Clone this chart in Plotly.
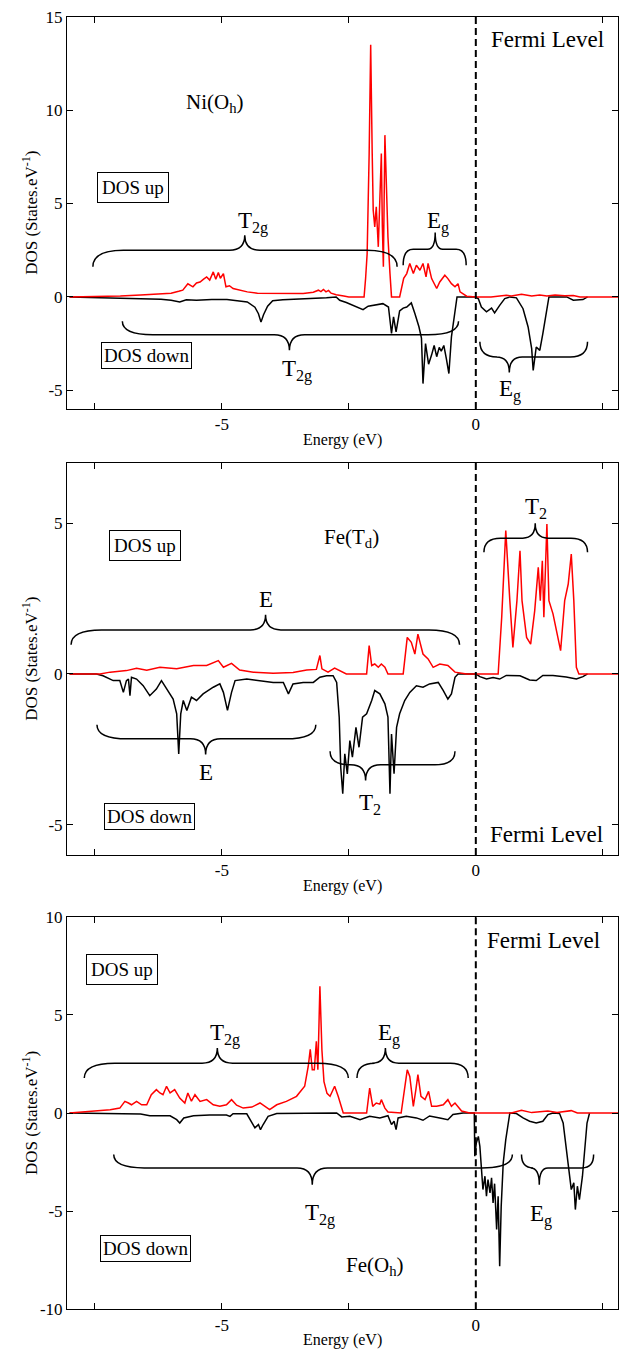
import plotly.graph_objects as go

# ---------------- data ----------------
# Panel 1 : Ni(Oh)
ni_up_e = [-8.0, -7.5, -7.0, -6.6, -6.2, -6.0, -5.85, -5.77, -5.67, -5.57,
           -5.5, -5.43, -5.36, -5.3, -5.24, -5.17, -5.12, -5.07, -5.03, -4.97,
           -4.92, -4.85, -4.78, -4.7, -4.6, -4.5, -4.3, -4.0, -3.7, -3.4,
           -3.2, -3.1, -3.05, -3.0, -2.95, -2.9, -2.85, -2.75, -2.6, -2.5,
           -2.3, -2.2, -2.17, -2.14, -2.1, -2.07, -2.04, -2.02, -1.99, -1.96,
           -1.92, -1.89, -1.86, -1.84, -1.82, -1.79, -1.77, -1.73, -1.69, -1.66,
           -1.5, -1.42, -1.36, -1.30, -1.23, -1.17, -1.10, -1.04, -0.98, -0.94,
           -0.87, -0.77, -0.71, -0.61, -0.55, -0.48, -0.41, -0.35, -0.31, -0.18,
           0.0, 0.3, 0.6, 0.7, 0.9, 1.1, 1.26, 1.4, 1.56, 1.75,
           1.92, 2.05, 2.3, 2.8]
ni_up = [0.0, 0.02, 0.05, 0.1, 0.15, 0.2, 0.3, 0.36, 0.7, 0.54,
         0.75, 0.8, 0.95, 1.07, 0.9, 1.34, 0.95, 1.3, 1.0, 1.25,
         0.54, 0.6, 0.45, 0.4, 0.3, 0.27, 0.2, 0.18, 0.2, 0.18,
         0.25, 0.36, 0.28, 0.4, 0.27, 0.35, 0.2, 0.12, 0.05, 0.0,
         0.0, 0.0, 1.0, 2.3, 7.68, 13.5, 7.68, 4.64, 3.75, 4.82,
         2.68, 5.54, 7.68, 3.75, 1.61, 8.66, 6.79, 3.21, 1.25, 0.0,
         0.0, 1.0, 1.25, 1.79, 1.25, 1.7, 1.43, 1.79, 1.07, 1.79,
         0.98, 0.45, 0.8, 1.16, 0.98, 0.71, 0.54, 0.71, 0.27, 0.04,
         0.0, 0.0, 0.09, 0.05, 0.14, 0.05, 0.1, 0.05, 0.1, 0.06,
         0.08, 0.0, 0.0, 0.0]
ni_dn_e = [-8.0, -7.0, -6.5, -6.2, -6.0, -5.83, -5.7, -5.5, -5.2, -4.9,
           -4.7, -4.5, -4.35, -4.28, -4.23, -4.18, -4.1, -4.0, -3.8, -3.5,
           -3.2, -2.94, -2.75, -2.68, -2.55, -2.42, -2.3, -2.22, -2.12, -2.02,
           -1.92, -1.83, -1.72, -1.66, -1.62, -1.57, -1.50, -1.43, -1.36, -1.27,
           -1.20, -1.12, -1.07, -1.04, -0.99, -0.93, -0.87, -0.82, -0.77, -0.72,
           -0.68, -0.63, -0.58, -0.53, -0.48, -0.41, -0.37, 0.0, 0.05, 0.11,
           0.21, 0.31, 0.37, 0.47, 0.57, 0.67, 0.80, 0.93, 1.03, 1.10,
           1.13, 1.19, 1.26, 1.32, 1.39, 1.44, 1.79, 1.92, 2.11, 2.2]
ni_dn = [0.0, -0.05, -0.1, -0.12, -0.18, -0.27, -0.15, -0.18, -0.14, -0.14,
         -0.2, -0.27, -0.55, -0.9, -1.35, -0.95, -0.5, -0.2, -0.15, -0.12,
         -0.1, -0.04, 0.0, -0.18, -0.3, -0.45, -0.6, -0.68, -0.5, -0.45,
         -0.4, -0.36, -0.54, -1.96, -1.07, -1.87, -0.75, -0.6, -0.54, -0.32,
         -0.89, -1.6, -2.2, -4.64, -2.5, -3.6, -3.1, -2.6, -3.2, -2.7,
         -2.9, -2.6, -3.3, -4.1, -2.14, -0.71, 0.0, 0.0, -0.1, -0.54,
         -0.8, -0.6, -0.86, -0.45, -0.09, 0.0, -0.05, -0.63, -1.61, -2.77,
         -3.93, -2.68, -2.86, -1.96, -0.71, 0.0, 0.0, -0.18, -0.14, 0.0]

# Panel 2 : Fe(Td)
td_up_e = [-8.0, -7.4, -7.2, -6.88, -6.68, -6.48, -6.22, -5.89, -5.56, -5.3,
           -5.07, -4.97, -4.81, -4.65, -4.38, -3.99, -3.6, -3.33, -3.14, -3.07,
           -3.03, -2.91, -2.78, -2.64, -2.55, -2.15, -2.10, -2.05, -1.99, -1.92,
           -1.86, -1.79, -1.73, -1.43, -1.35, -1.27, -1.20, -1.14, -1.04, -0.94,
           -0.84, -0.71, -0.55, -0.41, -0.18, 0.0, 0.44, 0.51, 0.59, 0.67,
           0.73, 0.81, 0.87, 0.91, 1.00, 1.08, 1.16, 1.23, 1.27, 1.31,
           1.34, 1.40, 1.44, 1.52, 1.60, 1.67, 1.75, 1.82, 1.88, 1.93,
           1.98, 2.03, 2.8]
td_up = [0.0, 0.0, 0.06, 0.11, 0.19, 0.12, 0.22, 0.17, 0.28, 0.28,
         0.44, 0.22, 0.35, 0.13, 0.06, 0.02, 0.05, 0.13, 0.15, 0.61,
         0.17, 0.06, 0.19, 0.06, 0.0, 0.0, 0.94, 0.28, 0.33, 0.22,
         0.33, 0.22, 0.0, 0.0, 1.21, 1.05, 0.66, 1.32, 0.66, 0.5,
         0.22, 0.33, 0.28, 0.06, 0.0, 0.0, 0.0, 1.88, 4.75, 2.43,
         0.88, 2.43, 4.08, 2.43, 1.21, 0.99, 2.1, 3.53, 2.43, 3.75,
         1.88, 4.97, 2.43, 1.99, 1.32, 0.77, 2.43, 2.98, 3.97, 2.43,
         0.22, 0.0, 0.0]
td_dn_e = [-8.0, -7.47, -7.34, -7.14, -7.01, -6.94, -6.88, -6.84, -6.81, -6.78,
           -6.68, -6.55, -6.42, -6.29, -6.19, -6.09, -5.96, -5.89, -5.85, -5.81,
           -5.76, -5.69, -5.60, -5.50, -5.37, -5.17, -5.04, -4.97, -4.89, -4.81,
           -4.74, -4.51, -4.25, -3.99, -3.79, -3.69, -3.6, -3.4, -3.2, -3.07,
           -2.94, -2.81, -2.74, -2.69, -2.66, -2.62, -2.58, -2.53, -2.48, -2.43,
           -2.36, -2.30, -2.23, -2.15, -2.05, -1.99, -1.89, -1.79, -1.73, -1.69,
           -1.66, -1.61, -1.56, -1.50, -1.40, -1.30, -1.17, -1.04, -0.91, -0.74,
           -0.64, -0.55, -0.48, -0.41, -0.35, 0.0, 0.08, 0.21, 0.34, 0.47,
           0.6, 0.87, 1.06, 1.19, 1.32, 1.52, 1.78, 1.98, 2.11, 2.2]
td_dn = [0.0, 0.0, -0.06, -0.22, -0.22, -0.61, -0.22, -0.17, -0.72, -0.11,
         -0.17, -0.39, -0.72, -0.5, -0.22, -0.5, -0.83, -1.32, -2.65, -1.32,
         -0.88, -1.21, -0.77, -0.88, -0.66, -0.44, -0.33, -0.61, -1.21, -0.61,
         -0.22, -0.17, -0.22, -0.28, -0.28, -0.66, -0.33, -0.28, -0.28, -0.11,
         -0.06, -0.06, -0.28, -1.43, -3.09, -3.97, -2.65, -3.31, -2.21, -2.76,
         -1.77, -2.43, -1.43, -1.32, -0.88, -0.55, -0.66, -0.99, -1.43, -3.97,
         -1.99, -3.31, -1.77, -1.32, -0.88, -0.61, -0.39, -0.44, -0.33, -0.28,
         -0.55, -0.83, -0.66, -0.11, 0.0, 0.0, -0.09, -0.17, -0.12, -0.17,
         -0.05, -0.06, -0.2, -0.22, -0.05, -0.05, -0.1, -0.17, -0.09, 0.0]

# Panel 3 : Fe(Oh)
oh_up_e = [-8.0, -7.53, -7.2, -7.01, -6.91, -6.84, -6.78, -6.68, -6.58, -6.48,
           -6.39, -6.29, -6.22, -6.16, -6.09, -6.02, -5.93, -5.83, -5.73, -5.67,
           -5.60, -5.53, -5.43, -5.30, -5.17, -5.04, -4.91, -4.81, -4.71, -4.58,
           -4.41, -4.25, -4.06, -3.92, -3.73, -3.53, -3.37, -3.30, -3.26, -3.22,
           -3.18, -3.14, -3.11, -3.07, -3.03, -2.99, -2.93, -2.87, -2.78, -2.71,
           -2.61, -2.15, -2.09, -2.03, -1.96, -1.89, -1.86, -1.79, -1.73, -1.47,
           -1.40, -1.35, -1.30, -1.23, -1.18, -1.14, -1.08, -1.00, -0.93, -0.87,
           -0.77, -0.64, -0.55, -0.48, -0.41, -0.35, -0.28, -0.12, 0.0, 0.7,
           0.9, 1.1, 1.42, 1.6, 1.88, 2.0, 2.8]
oh_up = [0.0, 0.08, 0.17, 0.25, 0.59, 0.51, 0.42, 0.59, 0.42, 0.42,
         0.93, 1.19, 1.02, 0.93, 1.36, 1.02, 1.19, 0.76, 0.51, 1.02,
         0.6, 0.93, 0.59, 0.68, 0.42, 0.34, 0.42, 0.68, 0.4, 0.25,
         0.3, 0.51, 0.17, 0.42, 0.59, 0.85, 1.36, 2.37, 3.24, 2.2,
         2.2, 3.65, 2.2, 6.45, 3.2, 1.6, 1.0, 0.85, 1.36, 0.85,
         0.0, 0.0, 1.27, 0.34, 0.51, 0.45, 0.68, 0.25, 0.05, 0.0,
         1.19, 2.2, 1.86, 0.34, 1.19, 1.95, 0.85, 0.68, 1.1, 0.34,
         0.34, 0.42, 0.68, 0.34, 0.51, 0.3, 0.1, 0.0, 0.0, 0.0,
         0.14, 0.02, 0.1, 0.02, 0.12, 0.0, 0.0]
oh_dn_e = [-8.0, -6.6, -6.42, -6.02, -5.89, -5.83, -5.75, -5.56, -5.24, -4.91,
           -4.84, -4.78, -4.51, -4.45, -4.35, -4.28, -4.24, -4.19, -4.09, -3.92,
           -2.94, -2.74, -2.64, -2.48, -2.28, -2.09, -1.89, -1.73, -1.66, -1.61,
           -1.57, -1.53, -1.37, -1.17, -1.04, -0.91, -0.71, -0.55, -0.45, -0.25,
           -0.03, -0.02, 0.01, 0.05, 0.08, 0.11, 0.14, 0.18, 0.21, 0.24,
           0.28, 0.31, 0.34, 0.37, 0.41, 0.44, 0.47, 0.50, 0.54, 0.59,
           0.64, 0.67, 0.80, 0.93, 1.06, 1.19, 1.32, 1.42, 1.52, 1.65,
           1.72, 1.78, 1.84, 1.88, 1.93, 1.96, 2.00, 2.04, 2.10, 2.15,
           2.19, 2.24]
oh_dn = [0.0, -0.05, -0.14, -0.14, -0.34, -0.51, -0.25, -0.14, -0.1, -0.1,
         -0.17, -0.04, -0.04, -0.34, -0.76, -0.59, -0.85, -0.6, -0.17, -0.03,
         -0.03, 0.0, -0.2, -0.17, -0.34, -0.17, -0.25, -0.14, -0.59, -0.42,
         -0.85, -0.25, -0.17, -0.25, -0.37, -0.15, -0.25, -0.34, -0.08, 0.0,
         0.0, -2.2, -1.53, -1.19, -1.7, -3.05, -3.9, -3.22, -4.24, -3.39,
         -4.07, -3.3, -4.58, -3.6, -5.93, -4.24, -7.8, -4.75, -2.54, -1.36,
         -0.34, 0.0, -0.03, -0.25, -0.42, -0.51, -0.42, -0.08, 0.0, -0.03,
         -0.51, -1.7, -2.88, -3.9, -3.56, -4.92, -3.73, -4.41, -3.22, -1.53,
         -0.51, 0.0]

# axis ranges and ticks
x_range = [-8.05, 2.8]
x_tickvals = [-7.5, -5, -2.5, 0, 2.5]
x_ticktext = ["", "-5", "", "0", ""]
y_ranges = [[-6, 15], [-6, 7], [-10, 10]]
y_tickvals = [[-5, 0, 5, 10, 15], [-5, 0, 5], [-10, -5, 0, 5, 10]]
y_ticktext = [["-5", "0", "5", "10", "15"], ["-5", "0", "5"], ["-10", "-5", "0", "5", "10"]]

# braces: (panel, x_left, x_right, x_tip, y_line, y_ends, y_tip)
braces = [
    (1, -7.54, -1.55, -4.55, 2.5, 1.62, 3.3),
    (1, -1.43, -0.19, -0.80, 2.55, 1.7, 3.45),
    (1, -6.96, -0.34, -3.67, -2.02, -1.3, -2.86),
    (1, 0.08, 2.2, 0.66, -3.21, -2.4, -4.04),
    (2, -7.97, -0.32, -4.14, 1.46, 0.97, 1.96),
    (2, -7.46, -3.15, -5.32, -2.15, -1.68, -2.67),
    (2, -2.87, -0.41, -2.17, -3.01, -2.56, -3.53),
    (2, 0.16, 2.2, 1.17, 4.5, 4.03, 4.99),
    (3, -7.71, -2.51, -5.09, 2.54, 1.78, 3.31),
    (3, -2.34, -0.15, -1.78, 2.54, 1.78, 3.31),
    (3, -7.13, 0.72, -3.22, -2.8, -2.12, -3.65),
    (3, 0.9, 2.32, 1.25, -2.8, -2.12, -3.65),
]

# text labels: (panel, text, x, y)
labels = [
    (1, "T<sub>2g</sub>", -4.39, 4.0), (1, "E<sub>g</sub>", -0.75, 4.0),
    (1, "T<sub>2g</sub>", -3.52, -3.95), (1, "E<sub>g</sub>", 0.67, -5.0),
    (2, "E", -4.14, 2.48), (2, "T<sub>2</sub>", 1.18, 5.5),
    (2, "E", -5.32, -3.26), (2, "T<sub>2</sub>", -2.09, -4.3),
    (3, "T<sub>2g</sub>", -4.93, 4.0), (3, "E<sub>g</sub>", -1.70, 4.0),
    (3, "T<sub>2g</sub>", -3.07, -5.15), (3, "E<sub>g</sub>", 1.29, -5.2),
]
names = [(1, "Ni(O<sub>h</sub>)", -5.13, 10.4), (2, "Fe(T<sub>d</sub>)", -2.44, 4.5),
         (3, "Fe(O<sub>h</sub>)", -1.98, -7.8)]
fermi = [(1, "Fermi Level", 0.26, 13.79), (2, "Fermi Level", 0.24, -5.32),
         (3, "Fermi Level", 0.18, 8.81)]
dos_up_box = [(1, "DOS up", -6.75, 5.87), (2, "DOS up", -6.52, 4.26), (3, "DOS up", -6.96, 7.31)]
dos_dn_box = [(1, "DOS down", -6.48, -3.16), (2, "DOS down", -6.42, -4.72), (3, "DOS down", -6.5, -6.91)]

# ---------------- figure ----------------
W, H = 619, 1351
FONT = "Liberation Serif, Times New Roman, Times, DejaVu Serif, serif"
panel_px = [(16.7, 409.0), (462.7, 855.0), (916.7, 1309.3)]  # top, bottom in px
x_dom = [67 / W, 618 / W]

curves = [(ni_up_e, ni_up, ni_dn_e, ni_dn), (td_up_e, td_up, td_dn_e, td_dn),
          (oh_up_e, oh_up, oh_dn_e, oh_dn)]

fig = go.Figure()
layout = dict(width=W, height=H, margin=dict(l=0, r=0, t=0, b=0),
              paper_bgcolor="white", plot_bgcolor="white", showlegend=False,
              font=dict(family=FONT, color="black", size=17))
shapes = []
annotations = []


def ax_name(i):
    return "" if i == 1 else str(i)


def tfont(size):
    return dict(family=FONT, size=size, color="black")


for i in range(1, 4):
    eu, vu, ed, vd = curves[i - 1]
    s = ax_name(i)
    fig.add_trace(go.Scatter(x=ed, y=vd, mode="lines", line=dict(color="black", width=1.5),
                             xaxis="x" + s, yaxis="y" + s, hoverinfo="skip"))
    fig.add_trace(go.Scatter(x=eu, y=vu, mode="lines", line=dict(color="#ff0000", width=1.5),
                             xaxis="x" + s, yaxis="y" + s, hoverinfo="skip"))
    top, bot = panel_px[i - 1]
    common = dict(showline=True, mirror="allticks", linecolor="black", linewidth=1,
                  ticks="inside", ticklen=6, tickwidth=1, tickcolor="black",
                  showgrid=False, zeroline=False, automargin=False, fixedrange=True,
                  tickfont=tfont(17))
    layout["xaxis" + s] = dict(common, domain=x_dom, range=x_range, anchor="y" + s,
                               tickmode="array", tickvals=x_tickvals, ticktext=x_ticktext)
    layout["yaxis" + s] = dict(common, domain=[1 - bot / H, 1 - top / H], range=y_ranges[i - 1],
                               anchor="x" + s, tickmode="array", tickvals=y_tickvals[i - 1],
                               ticktext=y_ticktext[i - 1])
    # Fermi level
    shapes.append(dict(type="line", xref="x" + s, yref="y" + s + " domain", x0=0, x1=0, y0=0, y1=1,
                       line=dict(color="black", width=2, dash="7px,4px")))
    # axis titles
    annotations.append(dict(text="Energy (eV)", xref="paper", yref="paper",
                            x=(x_dom[0] + x_dom[1]) / 2, y=1 - (bot + 31) / H,
                            showarrow=False, font=tfont(16), xanchor="center", yanchor="middle"))
    annotations.append(dict(text="DOS (States.eV<sup>-1</sup>)", xref="paper", yref="paper",
                            x=30 / W, y=1 - (top + bot) / 2 / H, textangle=-90,
                            showarrow=False, font=tfont(17), xanchor="center", yanchor="middle"))

for (p, xl, xr, xt, yl, ye, yt) in braces:
    s = ax_name(p)
    w = xr - xl
    r = min(0.6, 0.16 * w)
    r2 = min(0.3, 0.12 * w)
    path = (f"M {xl},{ye} Q {xl},{yl} {xl + r},{yl} L {xt - r2},{yl} Q {xt},{yl} {xt},{yt} "
            f"Q {xt},{yl} {xt + r2},{yl} L {xr - r},{yl} Q {xr},{yl} {xr},{ye}")
    shapes.append(dict(type="path", xref="x" + s, yref="y" + s, path=path,
                       line=dict(color="black", width=1.5)))

for (p, t, x, y) in labels:
    s = ax_name(p)
    annotations.append(dict(text=t, x=x, y=y, xref="x" + s, yref="y" + s, showarrow=False,
                            font=tfont(23), xanchor="center", yanchor="middle"))
for (p, t, x, y) in names:
    s = ax_name(p)
    annotations.append(dict(text=t, x=x, y=y, xref="x" + s, yref="y" + s, showarrow=False,
                            font=tfont(21), xanchor="center", yanchor="middle"))
for (p, t, x, y) in fermi:
    s = ax_name(p)
    annotations.append(dict(text=t, x=x, y=y, xref="x" + s, yref="y" + s, showarrow=False,
                            font=tfont(23), xanchor="left", yanchor="middle"))
for (p, t, x, y) in dos_up_box:
    s = ax_name(p)
    annotations.append(dict(text=t, x=x, y=y, xref="x" + s, yref="y" + s, showarrow=False,
                            font=tfont(19), xanchor="center", yanchor="middle",
                            bordercolor="black", borderwidth=1, borderpad=4, bgcolor="white"))
for (p, t, x, y) in dos_dn_box:
    s = ax_name(p)
    annotations.append(dict(text=t, x=x, y=y, xref="x" + s, yref="y" + s, showarrow=False,
                            font=tfont(19), xanchor="center", yanchor="middle",
                            bordercolor="black", borderwidth=1, borderpad=2, bgcolor="white"))

layout["shapes"] = shapes
layout["annotations"] = annotations
fig.update_layout(**layout)
fig.write_html("out.html", config={"displayModeBar": False},
               post_script="document.body.style.margin='0';document.body.style.overflow='hidden';")
